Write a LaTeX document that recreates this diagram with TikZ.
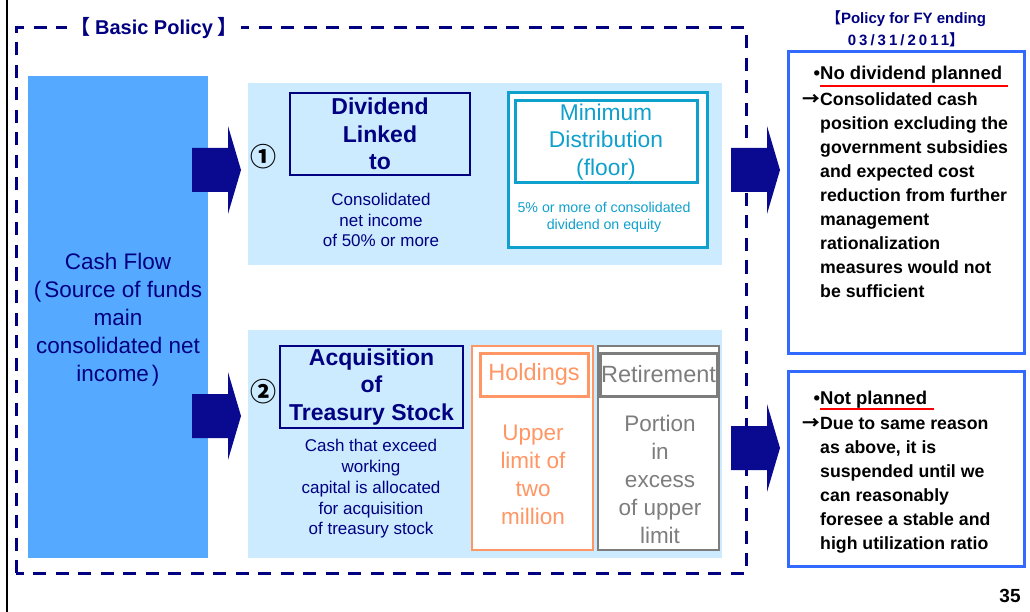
\documentclass[tikz,border=0pt]{standalone}
\usepackage{fontspec}
\setmainfont{Liberation Sans}
\newfontfamily\cjk{Noto Sans CJK JP}
\usetikzlibrary{calc}
\definecolor{navy}{RGB}{0,0,128}
\definecolor{cashblue}{RGB}{85,170,255}
\definecolor{panelblue}{RGB}{204,235,255}
\definecolor{arrowblue}{RGB}{10,10,145}
\definecolor{minicyan}{RGB}{16,160,205}
\definecolor{holdorange}{RGB}{255,150,100}
\definecolor{retgrey}{RGB}{125,125,125}
\definecolor{planblue}{RGB}{50,105,255}
\tikzstyle{panel}=[rectangle,fill=panelblue,draw=none,inner sep=0pt]
\tikzstyle{cashbox}=[rectangle,fill=cashblue,draw=none,inner sep=0pt]
\tikzstyle{cashtext}=[inner sep=0pt,align=center,text=navy,font=\fontsize{22.5}{28}\selectfont]
\tikzstyle{navybox}=[rectangle,draw=navy,line width=2.5pt,inner sep=0pt,align=center,text=navy,font=\bfseries\fontsize{23}{27.5}\selectfont]
\tikzstyle{navytext}=[inner sep=0pt,align=center,text=navy,font=\fontsize{17}{20.75}\selectfont]
\tikzstyle{outerbox}=[rectangle,fill=white,inner sep=0pt]
\tikzstyle{headbox}=[rectangle,fill=white,inner sep=0pt,line width=3pt,font=\fontsize{23.5}{28}\selectfont]
\tikzstyle{bigtext}=[inner sep=0pt,align=center,font=\fontsize{22.5}{28}\selectfont]
\tikzstyle{planbox}=[rectangle,fill=white,draw=planblue,line width=3pt,inner sep=0pt]
\tikzstyle{plantext}=[inner sep=0pt,align=left,font=\bfseries\fontsize{17.7}{24}\selectfont]
\tikzstyle{blockarrow}=[fill=arrowblue]

\begin{document}
\begin{tikzpicture}[x=1pt,y=-1pt]
\useasboundingbox (0,0) rectangle (1030,612);

\draw[line width=1.2pt] (7,0) -- (7,612);
\draw[navy,line width=3pt,dash pattern=on 13pt off 9.5pt] (16,573) -- (16,28) -- (746,28) -- (746,573) -- cycle;
\node[fill=white,inner sep=3pt,text=navy,font=\bfseries\fontsize{20}{24}\selectfont] (basic) at (154,28) {{\cjk 【}\hspace{5pt}Basic Policy\hspace{5pt}{\cjk 】}};

% source of funds
\node[cashbox,minimum width=180pt,minimum height=482pt] (cash) at (118,317) {};
\node[cashtext] (cashlabel) at (118,320)
  {Cash Flow\\(\hspace{3pt}Source of funds\\main\\consolidated net\\income\hspace{3pt})};

\node[panel,minimum width=474pt,minimum height=182pt] (toppanel) at (485,174) {};
\node[panel,minimum width=474pt,minimum height=228pt] (botpanel) at (485,444) {};

% (1) dividend
\node[font=\cjk\bfseries\fontsize{26}{28}\selectfont] (num1) at (263,157) {①};
\node[navybox,minimum width=180pt,minimum height=82pt] (divbox) at (380,134) {Dividend\\Linked\\to};
\node[navytext] (divtext) at (381,220) {Consolidated\\net income\\of 50\% or more};
\node[outerbox,draw=minicyan,line width=3pt,minimum width=199pt,minimum height=155pt] (minouter) at (607.5,170.5) {};
\node[headbox,draw=minicyan,text=minicyan,align=center,font=\fontsize{22.8}{27.5}\selectfont,minimum width=182pt,minimum height=82pt] (mininner) at (606,142) {Minimum\\Distribution\\(floor)};
\node[inner sep=0pt,align=center,text=minicyan,font=\fontsize{14.2}{17}\selectfont] (mintext) at (604,217.5) {5\% or more of consolidated\\dividend on equity};

% (2) treasury stock
\node[font=\cjk\bfseries\fontsize{26}{28}\selectfont] (num2) at (263,392) {②};
\node[navybox,minimum width=183pt,minimum height=82pt] (acqbox) at (371.5,387) {Acquisition\\of\\Treasury Stock};
\node[navytext] (acqtext) at (371,489) {Cash that exceed\\working\\capital is allocated\\for acquisition\\of treasury stock};

\foreach \pos/\name/\col in {{(532.5,448)}/holdouter/holdorange, {(658.5,448)}/retouter/retgrey}
  \node[outerbox,draw=\col,line width=1.5pt,minimum width=121pt,minimum height=204pt] (\name) at \pos {};
\node[headbox,draw=holdorange,text=holdorange,minimum width=108pt,minimum height=43pt] (holdinner) at (534,374.5) {Holdings};
\node[headbox,draw=retgrey,text=retgrey,minimum width=117pt,minimum height=43pt] (retinner) at (658.5,374.5) {Retirement};
\node[bigtext,text=holdorange] (holdtext) at (533,475) {Upper\\limit of\\two\\million};
\node[bigtext,text=retgrey] (rettext) at (660,479.5) {Portion\\in\\excess\\of upper\\limit};

% block arrows
\foreach \x/\y in {192/170, 192/416, 731/170, 731/448}
  \fill[blockarrow] (\x,\y-22) -- (\x+36,\y-22) -- (\x+36,\y-44) -- (\x+49,\y)
     -- (\x+36,\y+44) -- (\x+36,\y+22) -- (\x,\y+22) -- cycle;

% policy for the year
\node[inner sep=0pt,align=center,text=navy,font=\bfseries\fontsize{15}{22}\selectfont] (fytitle) at (906,29)
  {{\cjk 【}Policy for FY ending\\{\addfontfeature{LetterSpace=20}03/31/2011}{\cjk 】}};
\node[planbox,minimum width=236pt,minimum height=301pt] (plan1) at (906,202.5) {};
\node[planbox,minimum width=236pt,minimum height=195pt] (plan2) at (906,468.5) {};

\node[plantext,font=\bfseries\fontsize{18.5}{24}\selectfont,anchor=base west] (head1) at (820,80) {\llap{•}No dividend planned};
\draw[red,line width=2pt] (820,86) -- (1008,86);
\node[plantext,anchor=north west] (body1) at (820,92)
  {\llap{\cjk →}Consolidated cash\\position excluding the\\government subsidies\\and expected cost\\reduction from further\\management\\rationalization\\measures would not\\be sufficient};

\node[plantext,font=\bfseries\fontsize{18.5}{24}\selectfont,anchor=base west] (head2) at (820,404) {\llap{•}Not planned};
\draw[red,line width=2pt] (820,409) -- (934,409);
\node[plantext,anchor=north west] (body2) at (820,417)
  {\llap{\cjk →}Due to same reason\\as above, it is\\suspended until we\\can reasonably\\foresee a stable and\\high utilization ratio};

\node[font=\bfseries\fontsize{19}{20}\selectfont] (page) at (1010,596) {35};
\end{tikzpicture}
\end{document}
